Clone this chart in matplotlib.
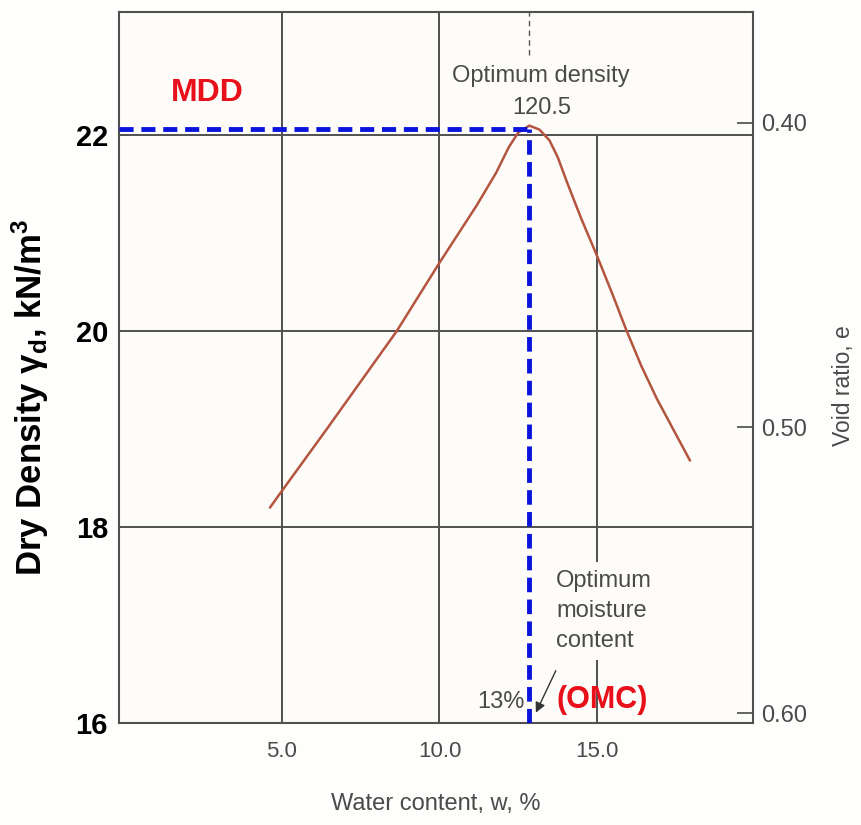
import matplotlib
matplotlib.use('Agg')
import matplotlib.pyplot as plt
from matplotlib import font_manager

# Compaction curve: water content (%) vs dry density (kN/m3)
water = [4.62, 5.0, 6.42, 8.64, 10.0, 11.17, 11.8, 12.2, 12.5, 12.85,
         13.17, 13.49, 13.75, 14.05, 14.5, 15.0, 15.5, 15.92, 16.4, 16.9, 17.95]
dry_density = [18.20, 18.37, 19.00, 20.0, 20.70, 21.28, 21.62, 21.88, 22.03, 22.10,
               22.06, 21.95, 21.78, 21.52, 21.15, 20.77, 20.37, 20.02, 19.65, 19.31, 18.68]

omc = 12.85     # optimum moisture content
mdd = 22.07     # maximum dry density

x_ticks = [5.0, 10.0, 15.0]
x_tick_labels = ['5.0', '10.0', '15.0']
y_ticks = [16, 18, 20, 22]
y_tick_labels = ['16', '18', '20', '22']
void_pos = [22.13, 19.02, 16.10]
void_labels = ['0.40', '0.50', '0.60']

names = {f.name for f in font_manager.fontManager.ttflist}
bold_font = 'Liberation Sans Narrow' if 'Liberation Sans Narrow' in names else 'Liberation Sans'

plt.rcParams['font.family'] = ['Liberation Sans', 'DejaVu Sans']
plt.rcParams['mathtext.fontset'] = 'custom'
plt.rcParams['mathtext.bf'] = bold_font + ':bold'
plt.rcParams['mathtext.rm'] = bold_font + ':bold'
plt.rcParams['mathtext.default'] = 'bf'

grey = '#4a4a4a'
line_c = '#505050'
bg = '#fefcf8'

fig = plt.figure(figsize=(8.61, 8.25), dpi=100, facecolor='#fefefc')
ax = fig.add_axes([0.1382, 0.1236, 0.7364, 0.8618])
ax.set_facecolor(bg)
ax.set_xlim(-0.17, 19.95)
ax.set_ylim(16, 23.26)

# grid
for y in [18, 20, 22]:
    ax.axhline(y, color=line_c, lw=1.4, zorder=1)
ax.axvline(5, color=line_c, lw=1.4, zorder=1)
ax.axvline(10, color=line_c, lw=1.4, zorder=1)
ax.vlines(15, 16, 22, color=line_c, lw=1.4, zorder=1)
for s in ax.spines.values():
    s.set_color(line_c)
    s.set_linewidth(1.5)

# curve
ax.plot(water, dry_density, color='#b4553f', lw=1.8, solid_joinstyle='round',
        solid_capstyle='round', zorder=4)

# MDD / OMC guides
ax.hlines(mdd, ax.get_xlim()[0], omc, color='#0a14dc', lw=3.5, linestyles=(0, (2.9, 1.6)), zorder=5)
ax.vlines(omc, 16, mdd, color='#0a14dc', lw=3.5, linestyles=(0, (3.0, 1.5)), zorder=5)
ax.vlines(omc, 22.82, 23.26, color='#555555', lw=1.0, linestyles=(0, (4, 3)), zorder=2)

# annotations
ax.text(2.62, 22.43, 'MDD', color='#e8101a', fontsize=23, fontweight='bold',
        family=bold_font, ha='center', va='center')
ax.text(13.2, 22.61, 'Optimum density', color=grey, fontsize=17, ha='center', va='center')
ax.text(13.24, 22.28, '120.5', color=grey, fontsize=17, ha='center', va='center')
ax.text(13.7, 17.56, 'Optimum\nmoisture\ncontent', color=grey, fontsize=17,
        ha='left', va='top', zorder=3, linespacing=1.45,
        bbox=dict(facecolor=bg, edgecolor='none', pad=6))
ax.text(12.7, 16.21, '13%', color=grey, fontsize=17, ha='right', va='center')
ax.text(13.7, 16.24, '(OMC)', color='#e8101a', fontsize=22, fontweight='bold',
        family=bold_font, ha='left', va='center', zorder=6)
ax.annotate('', xy=(13.02, 16.08), xytext=(13.73, 16.56),
            arrowprops=dict(arrowstyle='-|>', color='#333333', lw=1.0, mutation_scale=15),
            zorder=6)

# axes text
ax.set_xticks(x_ticks)
ax.set_xticklabels(x_tick_labels, fontsize=16, color=grey)
ax.tick_params(axis='x', length=0, pad=13)
ax.set_yticks(y_ticks)
ax.set_yticklabels(y_tick_labels, fontsize=21, fontweight='bold', family=bold_font, color='black')
ax.tick_params(axis='y', length=0, pad=8)
ax.set_xlabel('Water content, w, %', fontsize=17, color=grey, labelpad=22)
ax.set_ylabel(r'Dry Density γ$_d$, kN/m$^3$', fontsize=25, fontweight='bold',
              family=bold_font, va='center')
ax.yaxis.set_label_coords(-0.140, 0.4585)

ax2 = ax.twinx()
ax2.set_ylim(ax.get_ylim())
ax2.set_yticks(void_pos)
ax2.set_yticklabels(void_labels, fontsize=17, color=grey)
ax2.tick_params(axis='y', direction='in', length=11.5, width=1.2, colors=grey, pad=6)
for s in ax2.spines.values():
    s.set_visible(False)
ax2.set_ylabel('Void ratio, e', fontsize=16.5, color=grey, va='center')
ax2.yaxis.set_label_coords(1.142, 0.475)

plt.savefig('out.png', dpi=100, facecolor=fig.get_facecolor())
